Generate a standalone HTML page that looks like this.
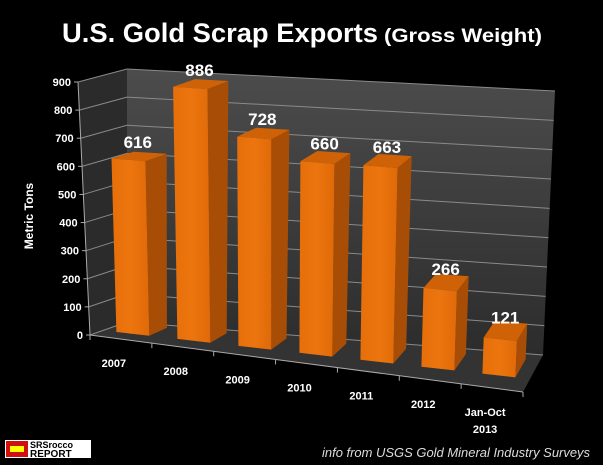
<!DOCTYPE html>
<html><head><meta charset="utf-8"><style>
html,body{margin:0;padding:0;background:#000;}
svg{display:block;font-family:"Liberation Sans",sans-serif;}
</style></head><body>
<svg id="c" width="603" height="465" viewBox="0 0 603 465">
<rect width="603" height="465" fill="#000"/>
<defs>
<linearGradient id="wall" x1="0" y1="0" x2="0" y2="1"><stop offset="0" stop-color="#4c4c4c"/><stop offset="1" stop-color="#2c2c2c"/></linearGradient>
<linearGradient id="front" x1="0" y1="0" x2="1" y2="0"><stop offset="0" stop-color="#e66f0a"/><stop offset="0.5" stop-color="#ec750e"/><stop offset="1" stop-color="#e06a08"/></linearGradient>
</defs>
<text x="62" y="42" fill="#fff" font-size="27" font-weight="bold" textLength="316" lengthAdjust="spacingAndGlyphs">U.S. Gold Scrap Exports</text>
<text x="384" y="42" fill="#fff" font-size="19" font-weight="bold" textLength="158" lengthAdjust="spacingAndGlyphs">(Gross Weight)</text>
<g id="plot"></g>
<text transform="translate(33,216) rotate(-90)" text-anchor="middle" fill="#fff" font-size="12" font-weight="bold">Metric Tons</text>
<g>
<rect x="5" y="440" width="86" height="18" fill="#fff"/>
<rect x="6" y="441" width="22" height="16" fill="#d01010"/>
<rect x="10" y="446" width="14" height="6" fill="#ff0"/>
<text x="30" y="448" font-size="9" font-weight="bold" fill="#000">SRSrocco</text>
<text x="30" y="457" font-size="10" font-weight="bold" fill="#000">REPORT</text>
</g>
<text x="322" y="457" fill="#ddd" font-size="13" font-style="italic" textLength="268" lengthAdjust="spacingAndGlyphs">info from USGS Gold Mineral Industry Surveys</text>
</svg>
<script>
const categories=["2007","2008","2009","2010","2011","2012","Jan-Oct|2013"];
const values=[616,886,728,660,663,266,121];
const yTicks=[0,100,200,300,400,500,600,700,800,900];
const yMax=900;
const NS="http://www.w3.org/2000/svg";
const plot=document.getElementById('plot');
const FL0=[90,335],FL9=[78,82],FR0=[523,392],FR9=[535,117];
const BL0=[127,322],BL9=[127,69],BR0=[543,355],BR9=[555,91];
function lerp(a,b,t){return [a[0]+(b[0]-a[0])*t,a[1]+(b[1]-a[1])*t];}
function P(u,v,d){const t=v/yMax;
 const f=lerp(lerp(FL0,FR0,u),lerp(FL9,FR9,u),t);
 const b=lerp(lerp(BL0,BR0,u),lerp(BL9,BR9,u),t);
 return lerp(f,b,d);}
function poly(pts,fill,name){const p=document.createElementNS(NS,'polygon');
 p.setAttribute('points',pts.map(q=>q[0].toFixed(1)+','+q[1].toFixed(1)).join(' '));
 p.setAttribute('fill',fill);
 
 
 plot.appendChild(p);return p;}
function line(a,b,col,w,name){const l=document.createElementNS(NS,'line');
 l.setAttribute('x1',a[0]);l.setAttribute('y1',a[1]);l.setAttribute('x2',b[0]);l.setAttribute('y2',b[1]);
 l.setAttribute('stroke',col);l.setAttribute('stroke-width',w);
 
 
 plot.appendChild(l);}
function text(x,y,s,size,anchor,name){const t=document.createElementNS(NS,'text');
 t.setAttribute('x',x);t.setAttribute('y',y);t.setAttribute('fill','#fff');t.setAttribute('font-size',size);
 t.setAttribute('font-weight','bold');t.setAttribute('text-anchor',anchor);t.textContent=s;
 
 
 plot.appendChild(t);}
poly([P(0,0,1),P(0,yMax,1),P(1,yMax,1),P(1,0,1)],'url(#wall)','back-wall');
poly([P(0,0,0),P(0,yMax,0),P(0,yMax,1),P(0,0,1)],'#2b2b2b','side-wall');
poly([P(0,0,0),P(0,0,1),P(1,0,1),P(1,0,0)],'#333','floor');
yTicks.forEach(v=>{
 line(P(0,v,0),P(0,v,1),'#8a8a8a',1,'gridline-side');
 line(P(0,v,1),P(1,v,1),'#8a8a8a',1,'gridline-back');
 const a=P(0,v,0);
 line([a[0]-4,a[1]],a,'#aaa',1,'y-tick');
 text(a[0]-7,a[1]+4,String(v),11,'end','y-tick-label');
});
line(P(0,0,0),P(0,yMax,0),'#aaa',1,'y-axis');
line(P(0,0,0),P(1,0,0),'#aaa',1,'x-axis');
const n=categories.length;
for(let i=0;i<=n;i++){const a=P(i/n,0,0);line(a,[a[0],a[1]+5],'#aaa',1,'x-tick');}
const d0=0.35,d1=0.85;
values.forEach((v,i)=>{
 const u0=(i+0.22)/n,u1=(i+0.76)/n;
 const nm=categories[i].split('|')[0];
 poly([P(u1,0,d0),P(u1,v,d0),P(u1,v,d1),P(u1,0,d1)],'#a84d06','bar-side-'+nm);
 poly([P(u0,v,d0),P(u0,v,d1),P(u1,v,d1),P(u1,v,d0)],'#cf6206','bar-top-'+nm);
 poly([P(u0,0,d0),P(u0,v,d0),P(u1,v,d0),P(u1,0,d0)],'url(#front)','bar-'+nm);
 const t=P((i+0.5)/n,v,0.55);
 text(t[0],t[1]-9,String(v),17,'middle','value-label');
 const b=P((i+0.5)/n,0,0);
 const parts=categories[i].split('|');
 parts.forEach((s,k)=>text(b[0]-7,b[1]+28+k*17,s,11,'middle','x-tick-label'));
});
</script>
</body></html>
